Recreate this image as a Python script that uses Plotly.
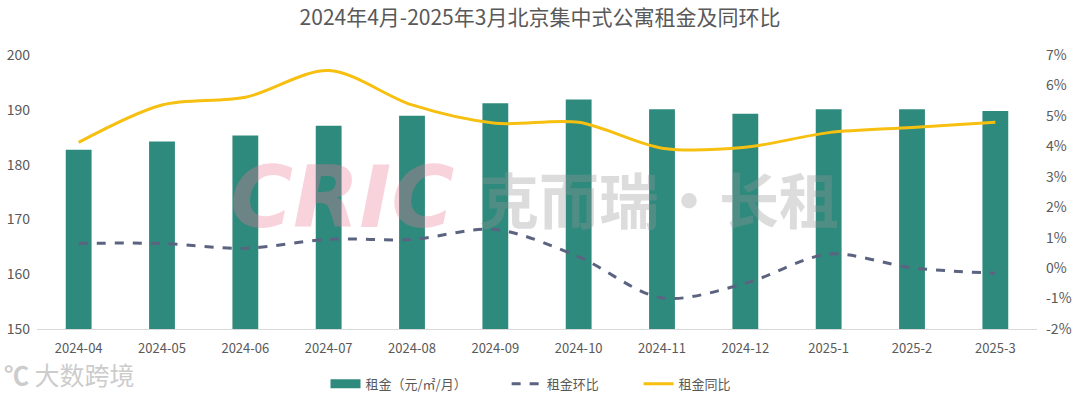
import plotly.graph_objects as go

months = ["2024-04", "2024-05", "2024-06", "2024-07", "2024-08", "2024-09",
          "2024-10", "2024-11", "2024-12", "2025-1", "2025-2", "2025-3"]
rent = [182.7, 184.2, 185.3, 187.1, 188.9, 191.2, 191.9, 190.1, 189.3, 190.1, 190.1, 189.8]
mom = [0.81, 0.81, 0.65, 0.95, 0.94, 1.27, 0.37, -0.98, -0.50, 0.46, 0.01, -0.17]
yoy = [4.13, 5.36, 5.61, 6.49, 5.36, 4.76, 4.79, 3.94, 3.97, 4.45, 4.62, 4.79]
pct_vals = [-2, -1, 0, 1, 2, 3, 4, 5, 6, 7]
pct_text = ["-2%", "-1%", "0%", "1%", "2%", "3%", "4%", "5%", "6%", "7%"]

FONT = "Noto Sans CJK SC"
GRAY = "#595959"
BAR = "#2f8a7e"
NB = "&nbsp;"

fig = go.Figure()
fig.add_trace(go.Bar(x=months, y=rent, name="租金（元/㎡/月）", showlegend=False,
                     marker=dict(color=BAR, line=dict(width=0)), yaxis="y"))
# legend proxy for bar (wide rectangle swatch)
fig.add_trace(go.Scatter(x=[None], y=[None], name="租金（元/㎡/月）" + NB * 12, mode="lines",
                         line=dict(color=BAR, width=9), yaxis="y"))
fig.add_trace(go.Scatter(x=months, y=mom, name="租金环比" + NB * 12, mode="lines",
                         line=dict(color="#5b6380", width=3, dash="dash", shape="spline", smoothing=0.9),
                         yaxis="y2"))
fig.add_trace(go.Scatter(x=months, y=yoy, name="租金同比", mode="lines",
                         line=dict(color="#f7bf0f", width=3, shape="spline", smoothing=0.9),
                         yaxis="y2"))

fig.update_layout(
    width=1080, height=398,
    margin=dict(l=37, r=43, t=55, b=69, autoexpand=False),
    paper_bgcolor="white", plot_bgcolor="white",
    font=dict(family=FONT, color=GRAY, size=12),
    title=dict(text="2024年4月-2025年3月北京集中式公寓租金及同环比", x=0.5, xanchor="center",
               y=0.955, yanchor="middle", font=dict(size=21, color=GRAY, family=FONT)),
    bargap=0.69,
    showlegend=True,
    legend=dict(orientation="h", x=0.494, xanchor="center", y=-0.2, yanchor="middle",
                font=dict(size=13, color=GRAY), tracegroupgap=0, traceorder="normal"),
    xaxis=dict(type="category", showgrid=False, showline=True, linecolor="#d9d9d9",
               linewidth=1, ticks="", tickfont=dict(size=13, color=GRAY),
               ticklabelstandoff=7, automargin=False),
    yaxis=dict(range=[150, 200], dtick=10, showgrid=False, zeroline=False,
               showline=False, tickfont=dict(size=14, color=GRAY), ticklabelstandoff=6,
               automargin=False),
    yaxis2=dict(range=[-2, 7], tickvals=pct_vals, ticktext=pct_text, overlaying="y",
                side="right", showgrid=False, zeroline=False, showline=False,
                tickfont=dict(size=14, color=GRAY), ticklabelstandoff=8, automargin=False),
)

# watermarks
fig.add_annotation(text="<b><i>CRIC</i></b>", x=0.305, y=0.48, xref="paper", yref="paper",
                   showarrow=False, font=dict(size=86, color="rgba(235,120,150,0.33)", family="DejaVu Sans"),
                   xanchor="center", yanchor="middle")
fig.add_annotation(text="<b>克而瑞·长租</b>", x=0.622, y=0.48, xref="paper", yref="paper",
                   showarrow=False, font=dict(size=60, color="rgba(150,150,150,0.33)", family=FONT),
                   xanchor="center", yanchor="middle")
fig.add_annotation(text="<b>℃</b> 大数跨境", x=-0.035, y=-0.165, xref="paper", yref="paper",
                   showarrow=False, font=dict(size=25, color="rgba(190,190,190,0.8)", family=FONT),
                   xanchor="left", yanchor="middle")

fig.write_html("out.html", config={"displayModeBar": False},
               post_script="document.body.style.margin='0';document.body.style.padding='0';")
